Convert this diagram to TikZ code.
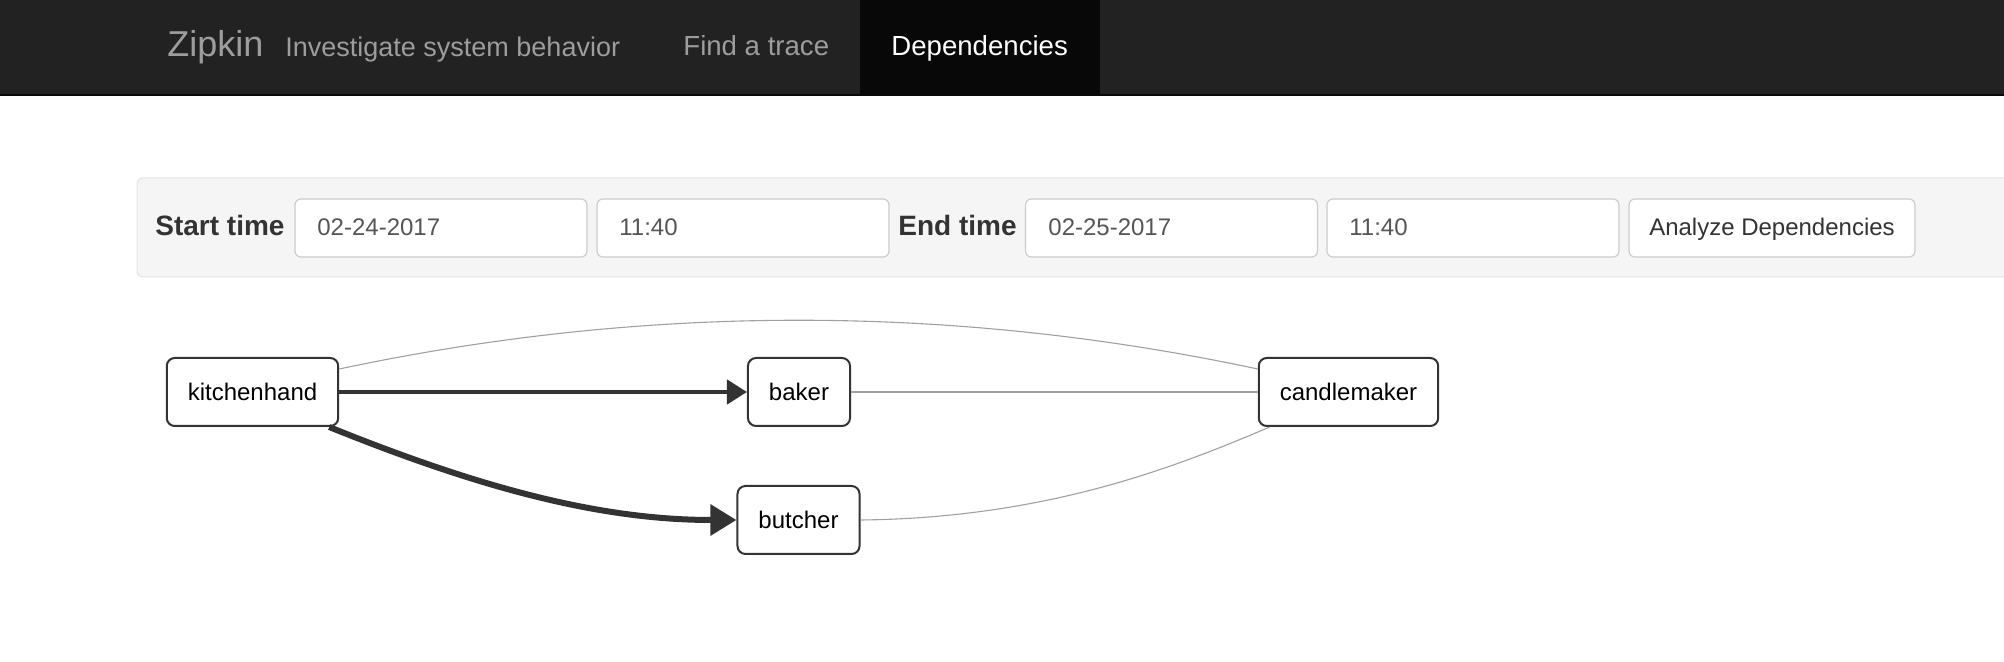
\documentclass[tikz,border=0pt]{standalone}
\usepackage{fontspec}
\setmainfont{Liberation Sans}
\usepackage{xcolor}
\usetikzlibrary{arrows.meta}
\definecolor{navbg}{HTML}{222222}
\definecolor{navact}{HTML}{080808}
\definecolor{navtext}{HTML}{9D9D9D}
\definecolor{wellbg}{HTML}{F5F5F5}
\definecolor{welledge}{HTML}{E3E3E3}
\definecolor{fieldedge}{HTML}{CCCCCC}
\definecolor{fieldtext}{HTML}{555555}
\definecolor{labeltext}{HTML}{333333}
\definecolor{svcedge}{HTML}{333333}
\definecolor{thinlink}{HTML}{A0A0A0}

\begin{document}
\begin{tikzpicture}[x=0.5pt,y=-0.5pt,
	nav/.style={anchor=base west, inner sep=0pt, text=navtext, font=\fontsize{13.8}{16}\selectfont},
	formlabel/.style={anchor=base west, inner sep=0pt, text=labeltext, font=\bfseries\fontsize{14}{16}\selectfont},
	field/.style={draw=fieldedge, line width=0.6pt, rounded corners=3pt, fill=white, minimum width=146pt, minimum height=29pt, inner sep=0pt},
	fieldval/.style={anchor=base west, inner sep=0pt, text=fieldtext, font=\fontsize{12}{14}\selectfont},
	svc/.style={draw=svcedge, line width=1pt, rounded corners=4pt, fill=white, minimum height=34pt, inner xsep=10.5pt, font=\fontsize{12}{14}\selectfont},
	heavy/.style={draw=svcedge},
	light/.style={draw=thinlink, line width=0.55pt}]
	\useasboundingbox (0,0) rectangle (2004,662);
	
	\fill[navbg] (0,0) rectangle (2004,95);
	\fill[navact] (860,0) rectangle (1100,95);
	\draw[navact, line width=1pt] (0,95) -- (2004,95);
	\node[nav, font=\fontsize{18}{20}\selectfont] (brand) at (167,57) {Zipkin};
	\node[nav, font=\fontsize{13.5}{16}\selectfont] (tagline) at (285,57) {Investigate system behavior};
	\node[nav] (findtrace) at (683,56) {Find a trace};
	\node[nav, text=white] (deps) at (891,56) {Dependencies};
	
	\draw[welledge, fill=wellbg, line width=0.5pt, rounded corners=3pt] (137,178) rectangle (2030,277);
	\node[formlabel] (startlabel) at (155,236) {Start time};
	\node[field] (startdate) at (441,228) {};
	\node[field] (starttime) at (743,228) {};
	\node[formlabel] (endlabel) at (898,236) {End time};
	\node[field] (enddate) at (1171.5,228) {};
	\node[field] (endtime) at (1473,228) {};
	\node[field, minimum width=143pt] (analyze) at (1772,228) {};
	\node[fieldval] (startdateval) at (317,236) {02-24-2017};
	\node[fieldval] (starttimeval) at (619,236) {11:40};
	\node[fieldval] (enddateval) at (1048,236) {02-25-2017};
	\node[fieldval] (endtimeval) at (1349,236) {11:40};
	\node[fieldval, text=labeltext, anchor=base] (analyzeval) at (1772,236) {Analyze Dependencies};
	
	\node[svc] (kitchenhand) at (252.5,392) {kitchenhand};
	\node[svc] (baker) at (799,392) {baker};
	\node[svc] (butcher) at (798.5,520) {butcher};
	\node[svc] (candlemaker) at (1348.5,392) {candlemaker};
	
	\draw[light] ([yshift=11.5pt]kitchenhand.east) .. controls (645,304) and (953,304) .. ([yshift=11.5pt]candlemaker.west);
	\draw[light] (baker.east) -- (candlemaker.west);
	\draw[light] (butcher.east) .. controls (1050,518) and (1180,465) .. ([xshift=6pt]candlemaker.south west);
	\draw[heavy, line width=2.2pt, -{Triangle[length=10pt,width=12pt]}] (kitchenhand.east) -- (baker.west);
	\draw[heavy, line width=3pt, -{Triangle[length=13pt,width=15pt]}] ([xshift=-5pt]kitchenhand.south east) .. controls (480,488) and (600,520) .. (butcher.west);
\end{tikzpicture}
\end{document}
